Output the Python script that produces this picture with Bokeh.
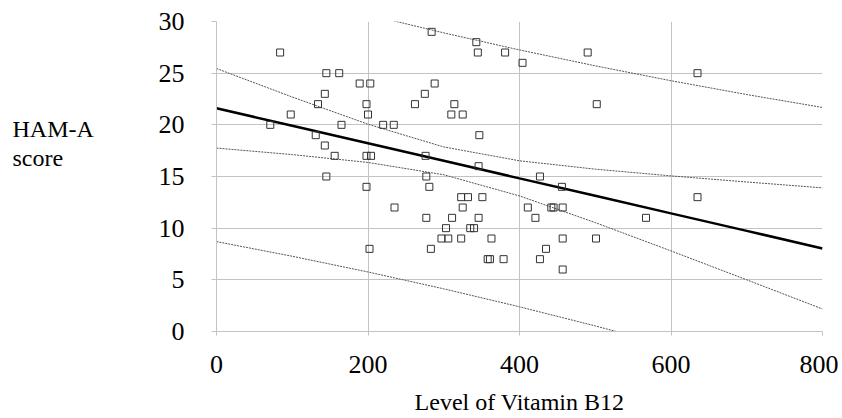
from bokeh.plotting import figure
from bokeh.layouts import row
from bokeh.models import Range1d, FixedTicker, ColumnDataSource
from bokeh.core.properties import value
from bokeh.embed import file_html
from bokeh.resources import INLINE

# ---- data ----
vit_b12 = [84, 145, 162, 189, 203, 143, 134, 198, 262, 98, 200, 71, 165, 220, 234,
           131, 143, 156, 198, 204, 145, 198, 284, 343, 345, 381, 490, 404, 502, 288,
           275, 314, 310, 325, 347, 276, 346, 427, 277, 281, 456, 235, 202, 323, 332,
           351, 325, 411, 442, 445, 457, 277, 311, 346, 421, 303, 335, 340, 297, 306,
           323, 363, 457, 501, 283, 435, 358, 361, 379, 427, 457, 635, 635, 567]
ham_a = [27, 25, 25, 24, 24, 23, 22, 22, 22, 21, 21, 20, 20, 20, 20,
         19, 18, 17, 17, 17, 15, 14, 29, 28, 27, 27, 27, 26, 22, 24,
         23, 22, 21, 21, 19, 17, 16, 15, 15, 14, 14, 12, 8, 13, 13,
         13, 12, 12, 12, 12, 12, 11, 11, 11, 11, 10, 10, 10, 9, 9,
         9, 9, 9, 9, 8, 8, 7, 7, 7, 7, 6, 25, 13, 11]

band_x = [0, 100, 200, 300, 400, 500, 600, 700, 800]
fit_line = [21.60, 19.91, 18.21, 16.52, 14.82, 13.13, 11.43, 9.74, 8.04]
ci_upper = [25.45, 22.69, 20.06, 17.86, 16.52, 15.71, 15.06, 14.47, 13.90]
ci_lower = [17.75, 17.12, 16.36, 15.17, 13.12, 10.54, 7.80, 5.00, 2.18]
pi_upper = [34.50, 32.53, 30.66, 28.90, 27.25, 25.71, 24.27, 22.93, 21.68]
pi_lower = [8.70, 7.28, 5.76, 4.13, 2.39, 0.54, -1.41, -3.46, -5.60]

x_ticks = [0, 200, 400, 600, 800]
y_ticks = [0, 5, 10, 15, 20, 25, 30]
x_title = "Level of Vitamin B12"
y_title_lines = ["HAM-A", "score"]
# baseline heights of the two title lines, in HAM-A score units
y_title_pos = [19.6, 16.8]

FONT = "Liberation Serif"
GRID = "#c3c3c3"
TOP = 21
FRAME_H = 310
BOTTOM = 85
LEFT_W = 140

yr = Range1d(0, 30)

# ---- left strip holding the horizontal y-axis title (same vertical geometry) ----
pt = figure(frame_width=LEFT_W, frame_height=FRAME_H, title=None,
            x_range=Range1d(0, LEFT_W), y_range=yr,
            x_axis_type=None, y_axis_type=None,
            min_border_left=0, min_border_right=0,
            min_border_top=TOP, min_border_bottom=BOTTOM,
            output_backend="svg", toolbar_location=None,
            background_fill_color="white", border_fill_color="white")
pt.grid.visible = False
pt.outline_line_color = None
pt.text(x=[12, 12], y=y_title_pos, text=y_title_lines,
        text_font=value(FONT), text_font_size="24px", text_color="black",
        text_baseline="alphabetic", text_align="left")

# ---- main chart ----
p = figure(frame_width=606, frame_height=FRAME_H,
           min_border_left=76, min_border_right=16,
           min_border_top=TOP, min_border_bottom=BOTTOM,
           x_range=Range1d(0, 800), y_range=yr,
           output_backend="svg", toolbar_location=None,
           background_fill_color="white", border_fill_color="white")
p.outline_line_color = None

p.xgrid.ticker = FixedTicker(ticks=x_ticks)
p.ygrid.ticker = FixedTicker(ticks=y_ticks)
p.grid.grid_line_color = GRID
p.grid.grid_line_width = 1

for ax in (p.xaxis[0], p.yaxis[0]):
    ax.axis_line_color = GRID
    ax.major_tick_line_color = GRID
    ax.minor_tick_line_color = None
    ax.major_tick_in = 0
    ax.major_label_text_font = FONT
    ax.major_label_text_font_size = "26px"
    ax.major_label_text_color = "black"

p.xaxis.ticker = FixedTicker(ticks=x_ticks)
p.yaxis.ticker = FixedTicker(ticks=y_ticks)
p.xaxis.major_tick_out = 4
p.yaxis.major_tick_out = 5
p.xaxis.major_label_standoff = 20
p.yaxis.major_label_standoff = 27

p.xaxis.axis_label = x_title
p.xaxis.axis_label_text_font = FONT
p.xaxis.axis_label_text_font_size = "24px"
p.xaxis.axis_label_text_font_style = "normal"
p.xaxis.axis_label_text_color = "black"
p.xaxis.axis_label_standoff = 13

src = ColumnDataSource(dict(x=band_x, fit=fit_line, cu=ci_upper, cl=ci_lower,
                            pu=pi_upper, pl=pi_lower))
for col in ("cu", "cl", "pu", "pl"):
    p.line("x", col, source=src, line_color="#555555", line_width=1, line_dash="2 1")
p.line("x", "fit", source=src, line_color="black", line_width=2.5)

p.scatter(vit_b12, ham_a, marker="square", size=7, fill_color=None,
          line_color="#333333", line_width=1)

layout = row(pt, p, spacing=0)
open("out.html", "w").write(file_html(layout, INLINE))
